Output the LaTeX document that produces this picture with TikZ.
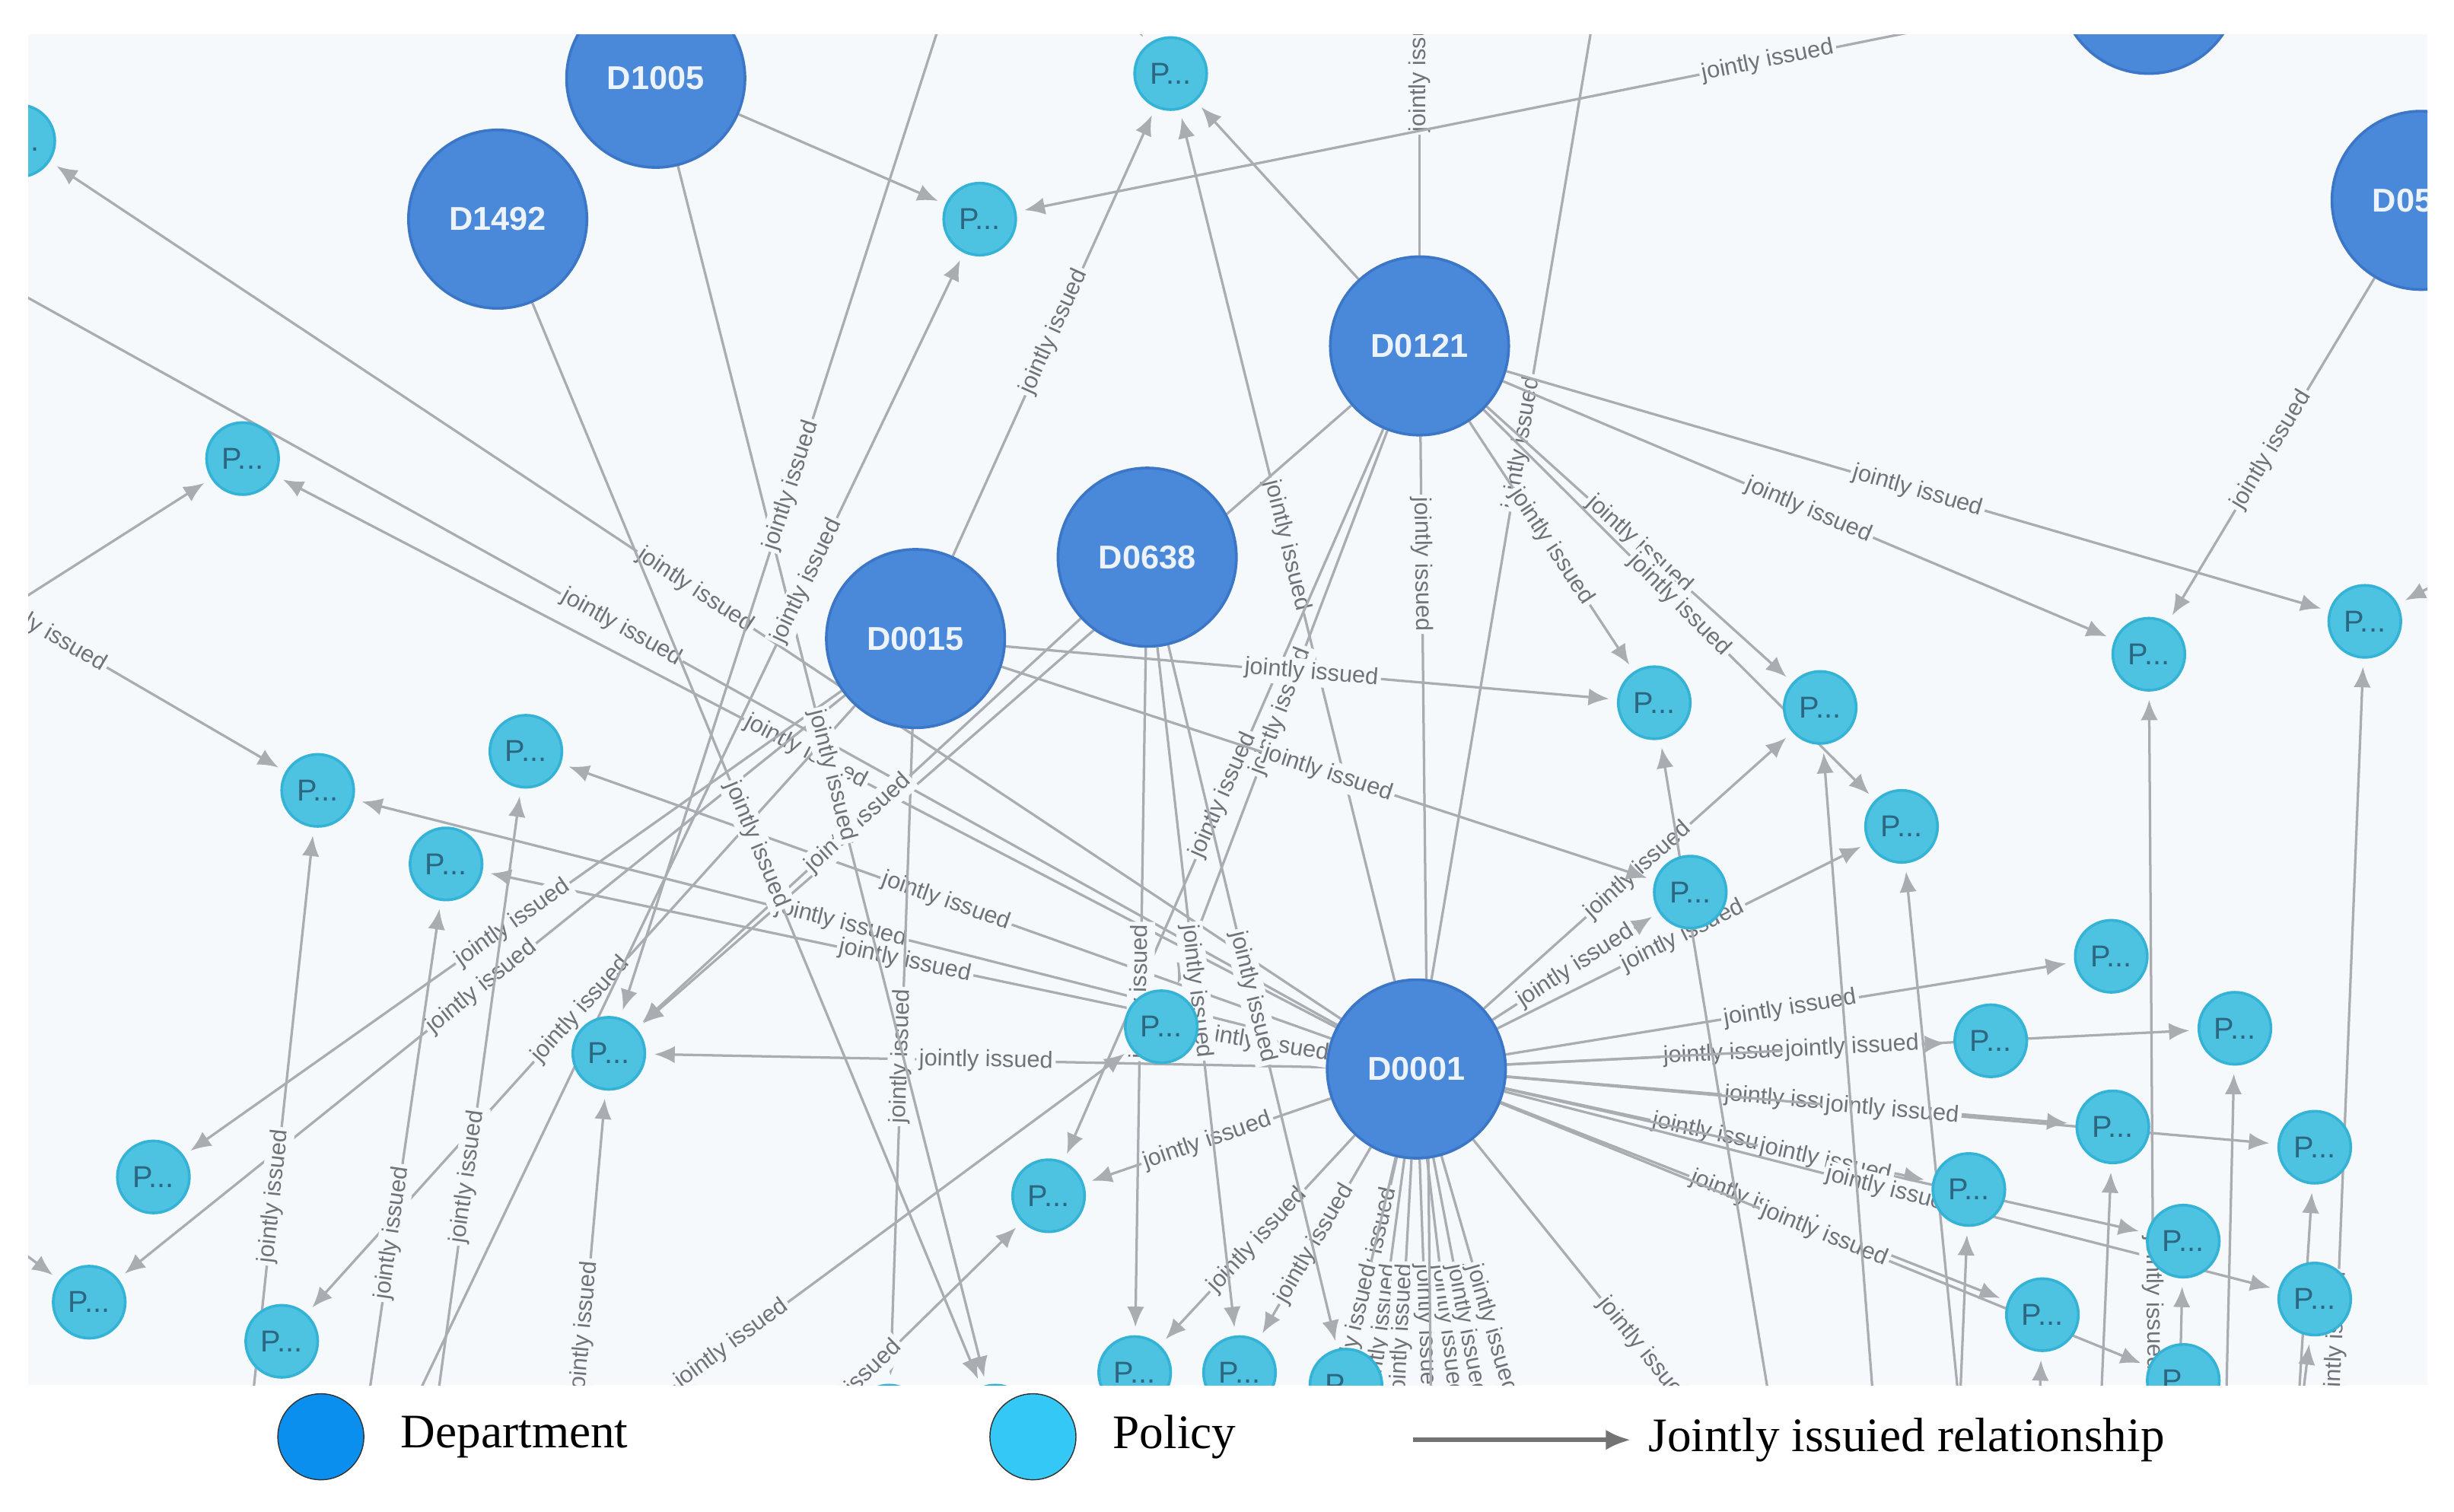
\documentclass[tikz,border=0pt]{standalone}
\usepackage{fontspec}
\setmainfont{Liberation Serif}
\newfontfamily\graphfont{Liberation Sans}
\usetikzlibrary{arrows.meta}
\usetikzlibrary{positioning}
\usetikzlibrary{backgrounds}

\definecolor{canvas}{HTML}{F5F9FC}
\definecolor{deptfill}{HTML}{4A88DA}
\definecolor{deptline}{HTML}{3C76C6}
\definecolor{polfill}{HTML}{4EC3E1}
\definecolor{polline}{HTML}{34B3D6}
\definecolor{poltext}{HTML}{2C6680}
\definecolor{relgray}{HTML}{A9ACB1}
\definecolor{lblgray}{HTML}{6F7276}
\definecolor{legdept}{HTML}{0A8FEF}
\definecolor{legpol}{HTML}{33C8F6}

\tikzset{
  dept/.style={circle,fill=deptfill,draw=deptline,line width=1pt,minimum size=2.28cm,inner sep=0pt,
    font=\graphfont\bfseries\fontsize{12}{12}\selectfont,text=white!90!deptfill},
  pol/.style={circle,fill=polfill,draw=polline,line width=1pt,minimum size=0.92cm,inner sep=0pt,
    font=\graphfont\fontsize{11}{11}\selectfont,text=poltext},
  rel/.style={draw=relgray,line width=0.9pt,-{Latex[length=2.6mm,width=2.2mm]},shorten >=3pt},
  lbl/.style={midway,sloped,fill=canvas,inner sep=1pt,
    font=\graphfont\fontsize{8.5}{8.5}\selectfont,text=lblgray},
  legtext/.style={font=\fontsize{17.5}{17.5}\selectfont,inner sep=0pt,anchor=west},
}

\begin{document}
\begin{tikzpicture}[x=0.02cm,y=-0.02cm]
\useasboundingbox (0,0) rectangle (1568,965.6);

\begin{scope}
\clip (18,22) rectangle (1551,885);

% Department nodes
\node[dept] (d1005) at (419,50) {D1005};
\node[dept] (d1492) at (318,140) {D1492};
\node[dept] (d0121) at (907,221) {D0121};
\node[dept] (d0638) at (733,356) {D0638};
\node[dept] (d0015) at (585,408) {D0015};
\node[dept] (d0001) at (905,683) {D0001};
\node[dept] (d05) at (1547,128) {D05\phantom{00}};
\node[dept] (dtop) at (1373,-10) {};

% Policy nodes
\node[pol] (p1) at (748,47) {P...};
\node[pol] (p2) at (626,140) {P...};
\node[pol] (p3) at (12,90) {P...};
\node[pol] (p4) at (155,293) {P...};
\node[pol] (p5) at (203,505) {P...};
\node[pol] (p6) at (336,480) {P...};
\node[pol] (p7) at (285,552) {P...};
\node[pol] (p8) at (389,673) {P...};
\node[pol] (p9) at (98,752) {P...};
\node[pol] (p10) at (57,832) {P...};
\node[pol] (p11) at (180,857) {P...};
\node[pol] (p12) at (742,656) {P...};
\node[pol] (p13) at (670,764) {P...};
\node[pol] (p14) at (725,877) {P...};
\node[pol] (p15) at (792,877) {P...};
\node[pol] (p16) at (860,885) {P...};
\node[pol] (p17) at (1057,449) {P...};
\node[pol] (p18) at (1163,452) {P...};
\node[pol] (p19) at (1215,528) {P...};
\node[pol] (p20) at (1080,570) {P...};
\node[pol] (p21) at (1373,418) {P...};
\node[pol] (p22) at (1511,397) {P...};
\node[pol] (p23) at (1349,611) {P...};
\node[pol] (p24) at (1272,665) {P...};
\node[pol] (p25) at (1428,657) {P...};
\node[pol] (p26) at (1350,720) {P...};
\node[pol] (p27) at (1479,733) {P...};
\node[pol] (p28) at (1258,760) {P...};
\node[pol] (p29) at (1395,793) {P...};
\node[pol] (p30) at (1479,830) {P...};
\node[pol] (p31) at (1305,840) {P...};
\node[pol] (p32) at (1395,882) {P...};
\node[pol] (pb0) at (568,908) {};
\node[pol] (pb1) at (636,908) {};

% Ends outside the frame
\coordinate (ola) at (-60,147);
\coordinate (olb) at (-60,430);
\coordinate (olc) at (-123,315);
\coordinate (old) at (-120,700);
\coordinate (otop) at (907,-80);
\coordinate (ot2) at (1030,-60);
\coordinate (ot3) at (690,-30);
\coordinate (ot4) at (615,-30);
\coordinate (ors) at (1620,340);
\coordinate (orb) at (1160,1000);
\foreach \n/\x in {f1/840,f2/868,f3/890,f4/915,f5/938,f6/958,f7/985}
  \coordinate (\n) at (\x,960);
\foreach \n/\x in {ob1/150,ob2/220,ob3/265,ob4/360,ob5/215,ob6/1377,ob7/1487,ob8/1262,ob9/1205,
  ob10/1148,ob11/1420,ob12/1462,ob13/1458,ob14/1338,ob15/1248,ob16/1300,ob17/1390}
  \coordinate (\n) at (\x,1000);
\coordinate (ob18) at (330,960);
\coordinate (ob19) at (470,960);

\begin{pgfonlayer}{background}
\clip (18,22) rectangle (1551,885);
\fill[canvas] (18,22) rectangle (1551,885);

% Relationships of D0001
\draw[rel] (d0001) -- node[lbl] {jointly issued} (p3);
\draw[rel] (d0001) -- node[lbl] {jointly issued} (ola);
\draw[rel] (d0001) -- node[lbl] {jointly issued} (p4);
\draw[rel] (d0001) -- node[lbl] {jointly issued} (p5);
\draw[rel] (d0001) -- node[lbl] {jointly issued} (p6);
\draw[rel] (d0001) -- node[lbl] {jointly issued} (p7);
\draw[rel] (d0001) -- node[lbl] {jointly issued} (p8);
\draw[rel] (d0001) -- node[lbl] {jointly issued} (p12);
\draw[rel] (d0001) -- node[lbl] {jointly issued} (p13);
\draw[rel] (d0001) -- node[lbl] {jointly issued} (p14);
\draw[rel] (d0001) -- node[lbl] {jointly issued} (p15);
\draw[rel] (d0001) -- node[lbl] {jointly issued} (p16);
\draw[rel] (d0001) -- node[lbl] {jointly issued} (p1);
\draw[rel] (d0001) -- node[lbl] {jointly issued} (p20);
\draw[rel] (d0001) -- node[lbl] {jointly issued} (p19);
\draw[rel] (d0001) -- node[lbl] {jointly issued} (p18);
\draw[rel] (d0001) -- node[lbl] {jointly issued} (p23);
\draw[rel] (d0001) -- node[lbl] {jointly issued} (p24);
\draw[rel] (d0001) -- node[lbl] {jointly issued} (p25);
\draw[rel] (d0001) -- node[lbl] {jointly issued} (p26);
\draw[rel] (d0001) -- node[lbl] {jointly issued} (p27);
\draw[rel] (d0001) -- node[lbl] {jointly issued} (p28);
\draw[rel] (d0001) -- node[lbl] {jointly issued} (p29);
\draw[rel] (d0001) -- node[lbl] {jointly issued} (p30);
\draw[rel] (d0001) -- node[lbl] {jointly issued} (p31);
\draw[rel] (d0001) -- node[lbl] {jointly issued} (p32);
\draw[rel] (d0001) -- node[lbl] {jointly issued} (orb);
\draw[rel] (d0001) -- node[lbl] {jointly issued} (ot2);
\foreach \n in {f1,f2,f3,f4,f5,f6,f7}
  \draw[rel] (d0001) -- node[lbl] {jointly issued} (\n);

% Relationships of D0121
\draw[rel] (d0121) -- (p1);
\draw[rel] (d0121) -- node[lbl] {jointly issued} (otop);
\draw[rel] (d0121) -- node[lbl] {jointly issued} (p21);
\draw[rel] (d0121) -- node[lbl] {jointly issued} (p22);
\draw[rel] (d0121) -- node[lbl] {jointly issued} (p18);
\draw[rel] (d0121) -- node[lbl] {jointly issued} (p17);
\draw[rel] (d0121) -- node[lbl] {jointly issued} (p19);
\draw[rel] (d0121) -- node[lbl] {jointly issued} (p13);
\draw[rel] (d0121) -- node[lbl] {jointly issued} (p12);
\draw[rel] (d0121) -- node[lbl,pos=0.12] {jointly issued} (f4);
\draw[rel] (d0121) -- (p8);

% Relationships of D0015 and D0638
\draw[rel] (d0015) -- node[lbl] {jointly issued} (p1);
\draw[rel] (d0015) -- node[lbl] {jointly issued} (p17);
\draw[rel] (d0015) -- node[lbl] {jointly issued} (p20);
\draw[rel] (d0015) -- node[lbl] {jointly issued} (pb0);
\draw[rel] (d0015) -- node[lbl] {jointly issued} (p9);
\draw[rel] (d0015) -- node[lbl] {jointly issued} (p10);
\draw[rel] (d0015) -- node[lbl] {jointly issued} (p11);
\draw[rel] (d0638) -- node[lbl] {jointly issued} (p14);
\draw[rel] (d0638) -- node[lbl] {jointly issued} (p15);
\draw[rel] (d0638) -- node[lbl] {jointly issued} (p16);
\draw[rel] (d0638) -- node[lbl] {jointly issued} (p8);

% Other departments
\draw[rel] (d1005) -- (p2);
\draw[rel] (d1005) -- node[lbl] {jointly issued} (pb1);
\draw[rel] (d1492) -- node[lbl] {jointly issued} (pb1);
\draw[rel] (dtop) -- node[lbl,pos=0.28] {jointly issued} (p2);
\draw[rel] (d05) -- node[lbl] {jointly issued} (p21);

% Relationships from outside the frame
\draw[rel] (olb) -- (p4);
\draw[rel] (olc) -- node[lbl] {jointly issued} (p5);
\draw[rel] (old) -- node[lbl] {jointly issued} (p10);
\draw[rel] (ob1) -- node[lbl] {jointly issued} (p5);
\draw[rel] (ob2) -- node[lbl] {jointly issued} (p7);
\draw[rel] (ob3) -- node[lbl] {jointly issued} (p6);
\draw[rel] (ob4) -- node[lbl] {jointly issued} (p8);
\draw[rel] (ob5) -- node[lbl,pos=0.75] {jointly issued} (p2);
\draw[rel] (ot4) -- node[lbl] {jointly issued} (p8);
\draw[rel] (ot3) -- (p1);
\draw[rel] (ors) -- (p22);
\draw[rel] (ob18) -- node[lbl,pos=0.35] {jointly issued} (p12);
\draw[rel] (ob19) -- node[lbl,pos=0.4] {jointly issued} (p13);
\draw[rel] (ob6) -- node[lbl,pos=0.3] {jointly issued} (p21);
\draw[rel] (ob7) -- node[lbl,pos=0.25] {jointly issued} (p22);
\foreach \s/\t in {ob8/p19,ob9/p18,ob10/p17,ob11/p25,ob12/p27,ob13/p30,ob14/p26,ob15/p28,ob16/p31,ob17/p29}
  \draw[rel] (\s) -- (\t);
\end{pgfonlayer}
\end{scope}

% Legend
\node[circle,fill=legdept,draw=black!80,line width=0.4pt,minimum size=1.1cm] (legd) at (205,918) {};
\node[legtext,right=0.46cm of legd] (legdtxt) {Department};
\node[circle,fill=legpol,draw=black!80,line width=0.4pt,minimum size=1.1cm] (legp) at (660,918) {};
\node[legtext,right=0.46cm of legp] (legptxt) {Policy};
\coordinate (lega) at (903,920);
\coordinate (legb) at (1042,920);
\draw[draw=black!55,line width=1.6pt,-{Latex[length=3.2mm,width=2.6mm]}] (lega) -- (legb);
\node[legtext,right=0.22cm of legb] (legrtxt) {Jointly issuied relationship};

\end{tikzpicture}
\end{document}
